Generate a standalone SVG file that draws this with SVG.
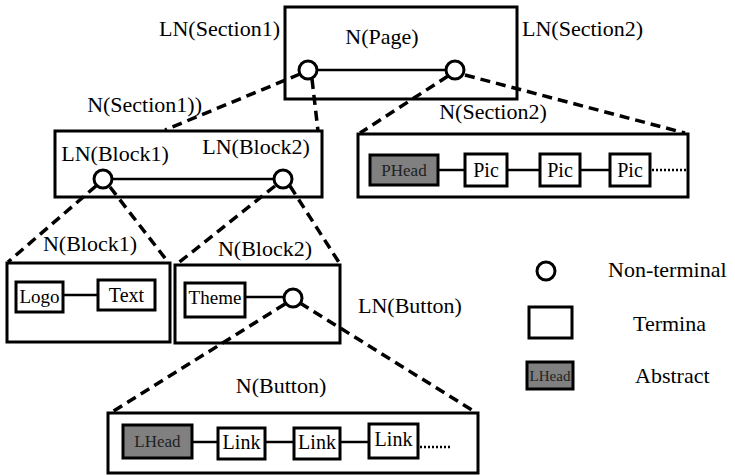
<svg xmlns="http://www.w3.org/2000/svg" width="735" height="475" viewBox="0 0 735 475" font-family="'Liberation Serif', 'Times New Roman', 'DejaVu Serif', serif">
<style>
  text { font-family: "Liberation Serif", "Times New Roman", "DejaVu Serif", serif; fill: #000; }
  .lbl { font-size: 22px; }
  .in { font-size: 20px; text-anchor: middle; }
  .abs-t { font-size: 17px; text-anchor: middle; fill: #222; }
  .frame { fill: #fff; stroke: #000; stroke-width: 3; }
  .term { fill: #fff; stroke: #000; stroke-width: 3; }
  .abs { fill: #808080; stroke: #000; stroke-width: 3; }
  .nt { fill: #fff; stroke: #000; stroke-width: 3; }
  .link { stroke: #000; stroke-width: 2.5; fill: none; }
  .dash { stroke: #000; stroke-width: 3.5; fill: none; stroke-dasharray: 10 6; }
  .dots { stroke: #000; stroke-width: 2.5; fill: none; stroke-dasharray: 2 2; }
</style>

<g id="page">
  <rect class="frame" x="285" y="7" width="232" height="92"/>
  <text class="lbl" x="382" y="44" text-anchor="middle">N(Page)</text>
  <text class="lbl" x="280" y="36" text-anchor="end">LN(Section1)</text>
  <text class="lbl" x="522" y="36">LN(Section2)</text>
  <line class="link" x1="317" y1="70" x2="446" y2="70"/>
  <circle class="nt" cx="308" cy="70" r="9"/>
  <circle class="nt" cx="455" cy="70" r="9"/>
</g>

<g id="section1">
  <rect class="frame" x="55" y="131" width="267" height="66"/>
  <text class="lbl" x="202" y="112" text-anchor="end">N(Section1))</text>
  <text class="lbl" x="115" y="161" text-anchor="middle">LN(Block1)</text>
  <text class="lbl" x="256" y="154" text-anchor="middle">LN(Block2)</text>
  <line class="link" x1="112" y1="179" x2="274" y2="179"/>
  <circle class="nt" cx="103" cy="179" r="9"/>
  <circle class="nt" cx="283" cy="179" r="9"/>
</g>

<g id="section2">
  <rect class="frame" x="358" y="134" width="330" height="63"/>
  <text class="lbl" x="493" y="119" text-anchor="middle">N(Section2)</text>
  <line class="link" x1="438" y1="170" x2="465" y2="170"/>
  <line class="link" x1="507" y1="170" x2="540" y2="170"/>
  <line class="link" x1="580" y1="170" x2="610" y2="170"/>
  <line class="dots" x1="652" y1="170" x2="686" y2="170"/>
  <rect class="abs" x="370" y="155" width="68" height="30"/>
  <text class="abs-t" x="404" y="176">PHead</text>
  <rect class="term" x="465" y="154" width="42" height="32"/>
  <text class="in" x="486" y="177">Pic</text>
  <rect class="term" x="540" y="154" width="40" height="32"/>
  <text class="in" x="560" y="177">Pic</text>
  <rect class="term" x="610" y="154" width="40" height="32"/>
  <text class="in" x="630" y="177">Pic</text>
</g>

<g id="block1">
  <rect class="frame" x="7" y="263" width="163" height="79"/>
  <text class="lbl" x="90" y="251" text-anchor="middle">N(Block1)</text>
  <line class="link" x1="63" y1="295" x2="98" y2="295"/>
  <rect class="term" x="16" y="282" width="47" height="30"/>
  <text class="in" x="39.5" y="303" style="font-size:19px">Logo</text>
  <rect class="term" x="98" y="280" width="57" height="30"/>
  <text class="in" x="126.5" y="302">Text</text>
</g>

<g id="block2">
  <rect class="frame" x="175" y="265" width="165" height="78"/>
  <text class="lbl" x="265" y="256" text-anchor="middle">N(Block2)</text>
  <text class="lbl" x="358" y="313">LN(Button)</text>
  <line class="link" x1="245" y1="297" x2="284" y2="297"/>
  <rect class="term" x="185" y="283" width="60" height="34"/>
  <text class="in" x="215" y="304" style="font-size:19px">Theme</text>
  <circle class="nt" cx="293" cy="298" r="9"/>
</g>

<g id="button">
  <rect class="frame" x="108" y="413" width="370" height="60"/>
  <text class="lbl" x="281" y="393" text-anchor="middle">N(Button)</text>
  <line class="link" x1="192" y1="442" x2="218" y2="442"/>
  <line class="link" x1="265" y1="442" x2="294" y2="442"/>
  <line class="link" x1="340" y1="442" x2="369" y2="442"/>
  <line class="dots" x1="420" y1="447" x2="452" y2="447"/>
  <rect class="abs" x="123" y="425" width="69" height="33"/>
  <text class="abs-t" x="157.5" y="447">LHead</text>
  <rect class="term" x="218" y="428" width="47" height="31"/>
  <text class="in" x="241.5" y="449">Link</text>
  <rect class="term" x="294" y="428" width="46" height="31"/>
  <text class="in" x="317" y="449">Link</text>
  <rect class="term" x="369" y="424" width="49" height="34"/>
  <text class="in" x="393.5" y="446">Link</text>
</g>

<g id="legend">
  <circle class="nt" cx="546" cy="271" r="9"/>
  <text class="lbl" x="608" y="277">Non-terminal</text>
  <rect class="term" x="529" y="307" width="43" height="31"/>
  <text class="lbl" x="633" y="331">Termina</text>
  <rect class="abs" x="527" y="362" width="46" height="27"/>
  <text class="abs-t" x="550" y="381" style="font-size:15px">LHead</text>
  <text class="lbl" x="635" y="383">Abstract</text>
</g>

<g id="connectors">
  <line class="dash" x1="300" y1="74" x2="165" y2="130"/>
  <line class="dash" x1="312" y1="79" x2="318" y2="131"/>
  <line class="dash" x1="448" y1="76" x2="360" y2="133"/>
  <line class="dash" x1="465" y1="75" x2="685" y2="133"/>
  <line class="dash" x1="96" y1="186" x2="8" y2="262"/>
  <line class="dash" x1="110" y1="187" x2="168" y2="262"/>
  <line class="dash" x1="275" y1="186" x2="177" y2="264"/>
  <line class="dash" x1="290" y1="186" x2="340" y2="264"/>
  <line class="dash" x1="285" y1="304" x2="112" y2="412"/>
  <line class="dash" x1="300" y1="303" x2="472" y2="410"/>
</g>
</svg>
